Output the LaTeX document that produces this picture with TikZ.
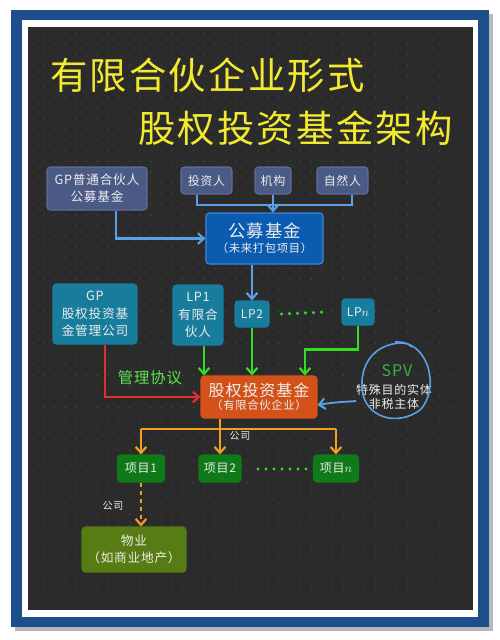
\documentclass[tikz,border=0pt]{standalone}
\usepackage{fontspec}
\setmainfont{Noto Sans CJK SC}[LetterSpace=6]
\usetikzlibrary{arrows.meta,calc}
\definecolor{darkbg}{HTML}{2B2B2B}
\definecolor{gridc}{HTML}{4A4A4A}
\definecolor{framec}{HTML}{1F4E8C}
\definecolor{shadowc}{HTML}{B8B8B8}
\definecolor{titlec}{HTML}{F2EA2E}
\definecolor{slate}{HTML}{4B5A84}
\definecolor{slateb}{HTML}{5E6E9A}
\definecolor{pubc}{HTML}{0B5BB0}
\definecolor{pubb}{HTML}{3A8AD8}
\definecolor{tealc}{HTML}{187C9C}
\definecolor{connb}{HTML}{5AA0E6}
\definecolor{greenl}{HTML}{33DD22}
\definecolor{redl}{HTML}{E03030}
\definecolor{fundc}{HTML}{D4521A}
\definecolor{orangel}{HTML}{F0A020}
\definecolor{projc}{HTML}{0E7A18}
\definecolor{olivec}{HTML}{577C14}
\definecolor{txtc}{HTML}{EDEDED}
\definecolor{spvg}{HTML}{3CB043}
\tikzset{
  box/.style={rectangle, rounded corners=2.5pt, text=txtc, align=center, inner sep=1pt, line width=0.8pt},
  slatebox/.style={box, fill=slate, draw=slateb},
  tealbox/.style={box, fill=tealc, draw=tealc},
  projbox/.style={box, fill=projc, draw=projc, font=\fontsize{9}{11}\selectfont},
  bline/.style={draw=connb, line width=1.6pt},
  barr/.style={bline, -{Straight Barb[length=4.5pt,width=8pt,line width=1.6pt]}},
  garr/.style={draw=greenl, line width=1.6pt, -{Straight Barb[length=4.5pt,width=8pt,line width=1.6pt]}},
  rarr/.style={draw=redl, line width=1.6pt, -{Straight Barb[length=4.5pt,width=8pt,line width=1.6pt]}},
  oline/.style={draw=orangel, line width=1.6pt},
  oarr/.style={oline, -{Straight Barb[length=4.5pt,width=8pt,line width=1.6pt]}},
  dotsg/.style={draw=greenl, line width=2.6pt, line cap=round, dash pattern=on 0pt off 6pt},
  lbl/.style={text=txtc, font=\fontsize{7.5}{9}\selectfont}
}
\begin{document}
\begin{tikzpicture}[x=0.75pt,y=-0.75pt]
\useasboundingbox (0,0) rectangle (500,640);
\fill[white] (0,0) rectangle (500,640);
% frame
\fill[shadowc] (15,14) rectangle (493,631);
\fill[framec] (11,10) rectangle (489,627);
\fill[white] (22,20) rectangle (478,617);
\fill[darkbg] (28,27) rectangle (473,610);
% dot grid
\foreach \yy in {33,43.7,...,606} {
  \draw[gridc, line width=1.1pt, line cap=round, dash pattern=on 0pt off 8.025pt] (33,\yy) -- (470,\yy);
}
% title
\node[text=titlec, font=\fontsize{28}{32}\selectfont, anchor=west, inner sep=0pt] (t1) at (50,75) {有限合伙企业形式};
\node[text=titlec, font=\fontsize{28}{32}\selectfont, anchor=west, inner sep=0pt] (t2) at (138,128) {股权投资基金架构};
% top row
\node[slatebox, minimum width=75pt, minimum height=32.25pt, font=\fontsize{9.5}{13}\selectfont] (gpp) at (97,188.5) {GP普通合伙人\\公募基金};
\node[slatebox, minimum width=38.25pt, minimum height=20.25pt, font=\fontsize{9}{11}\selectfont] (inv) at (206.5,180.5) {投资人};
\node[slatebox, minimum width=27pt, minimum height=20.25pt, font=\fontsize{9}{11}\selectfont] (org) at (273,180.5) {机构};
\node[slatebox, minimum width=38.25pt, minimum height=20.25pt, font=\fontsize{9}{11}\selectfont] (nat) at (342.5,180.5) {自然人};
\node[box, fill=pubc, draw=pubb, minimum width=87.75pt, minimum height=38.25pt] (pub) at (264.5,238.5) {{\fontsize{13}{16}\selectfont 公募基金}\\[-1pt]{\fontsize{8.5}{10}\selectfont （未来打包项目）}};
\coordinate (busA) at (197,205);
\coordinate (busAe) at (352,205);
\draw[bline] (busA |- inv.south) -- (busA) -- (busAe) -- (busAe |- nat.south);
\draw[barr] (org.south) -- (org.south |- pub.north);
\draw[barr] ([xshift=14.25pt]gpp.south) |- (pub.west);
% second row
\node[tealbox, minimum width=63pt, minimum height=45pt, font=\fontsize{9.5}{13}\selectfont] (gp) at (95,314) {GP\\股权投资基\\金管理公司};
\node[tealbox, minimum width=37.5pt, minimum height=45pt, font=\fontsize{9.5}{13}\selectfont] (lp1) at (198,315) {LP1\\有限合\\伙人};
\node[tealbox, minimum width=25.5pt, minimum height=19.5pt, font=\fontsize{9}{11}\selectfont] (lp2) at (252,314) {LP2};
\node[tealbox, minimum width=24pt, minimum height=19.5pt, font=\fontsize{9}{11}\selectfont] (lpn) at (358,312) {LP$n$};
\draw[dotsg] (lp2.east) ++(12,0) coordinate (d1) -- (lpn.west -| 326,0);
\draw[barr] (lp2.north |- pub.south) -- (lp2.north);
% fund
\node[box, fill=fundc, draw=fundc, minimum width=87pt, minimum height=31.5pt] (fund) at (259,397) {{\fontsize{12}{14}\selectfont 股权投资基金}\\[-2pt]{\fontsize{8.5}{10}\selectfont （有限合伙企业）}};
\draw[garr] ([xshift=4.5pt]lp1.south) -- ([xshift=4.5pt]lp1.south |- fund.north);
\draw[garr] (lp2.south) -- (lp2.south |- fund.north);
\draw[garr] (lpn.south) -- ++(0,24) -| ([xshift=34.5pt]fund.north);
\draw[rarr] ([xshift=7.5pt]gp.south) |- (fund.west);
\node[text=greenl!80!white, font=\fontsize{11.5}{13}\selectfont] (mgmt) at (150,378) {管理协议};
% SPV
\node[text=spvg, font=\fontsize{12}{14}\selectfont] (spv) at (397,371) {SPV};
\node[text=txtc, font=\fontsize{9}{11}\selectfont, align=center, inner sep=0pt] (spvt) at (394,397) {特殊目的实体\\非税主体};
\draw[connb, line width=1.2pt] (395,342) .. controls (430,340) and (440,390) .. (420,410)
   .. controls (400,425) and (370,420) .. (363,395) .. controls (358,370) and (370,345) .. (400,343) .. controls (408,343) and (410,345) .. (412,347);
\draw[barr, line width=1.4pt] (356,401) .. controls (345,402) and (335,402) .. (fund.east |- 0,405);
% projects
\node[projbox, minimum width=35.25pt, minimum height=20.25pt] (p1) at (141,468.5) {项目1};
\node[projbox, minimum width=31.5pt, minimum height=20.25pt] (p2) at (220,468.5) {项目2};
\node[projbox, minimum width=33.75pt, minimum height=20.25pt] (pn) at (336,468.5) {项目$n$};
\draw[dotsg] (258,469) -- (306,469);
\coordinate (busB) at (220,429);
\draw[oline] (p1.north |- busB) -- (pn.north |- busB);
\draw[oarr] (fund.south -| p2.north) -- (p2.north);
\draw[oarr] (p1.north |- busB) -- (p1.north);
\draw[oarr] (pn.north |- busB) -- (pn.north);
\node[lbl] (co1) at (240,436) {公司};
% property
\node[box, fill=olivec, draw=olivec, minimum width=78pt, minimum height=33.75pt, font=\fontsize{9.5}{13}\selectfont] (prop) at (134,549.5) {物业\\（如商业地产）};
\draw[oarr, dashed] (p1.south) -- (p1.south |- prop.north);
\node[lbl] (co2) at (113,506) {公司};
\end{tikzpicture}
\end{document}
